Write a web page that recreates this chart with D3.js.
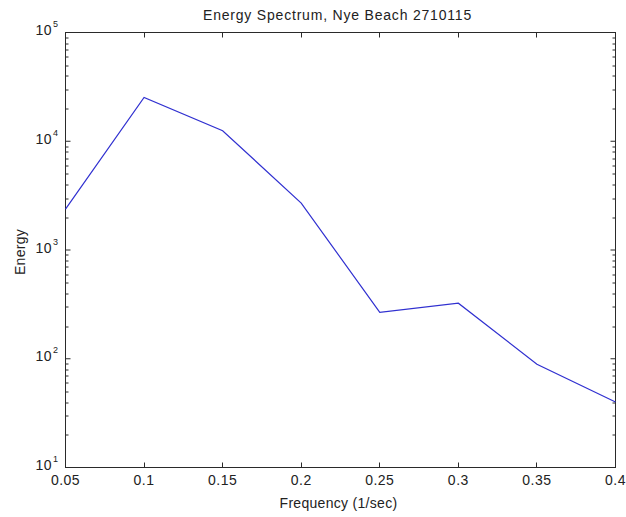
<!DOCTYPE html>
<html>
<head>
<meta charset="utf-8">
<script src="https://cdn.jsdelivr.net/npm/d3@7"></script>
<style>
    body { margin: 0; background: #fff; }
    text { font-family: "Liberation Sans", Arial, sans-serif; fill: #222; }
</style>
</head>
<body>
<div id="chart"></div>
<script>
// values
const frequencies = [0.05, 0.1, 0.15, 0.2, 0.25, 0.3, 0.35, 0.4];
const energy = [2380, 25300, 12500, 2700, 267, 324, 89, 40];
const xTicks = [0.05, 0.1, 0.15, 0.2, 0.25, 0.3, 0.35, 0.4];
const yDecades = [1, 2, 3, 4, 5];
const titleText = "Energy Spectrum, Nye Beach 2710115";

class SpectrumVis {
    constructor(parentElement) {
        this.parentElement = parentElement;
        this.initVis();
    }

    initVis() {
        let vis = this;

        vis.margin = {top: 32.5, right: 10.5, bottom: 49.5, left: 65.5};
        vis.totalW = 626;
        vis.totalH = 517;
        vis.width = vis.totalW - vis.margin.left - vis.margin.right;
        vis.height = vis.totalH - vis.margin.top - vis.margin.bottom;

        vis.svg = d3.select("#" + vis.parentElement).append("svg")
            .attr("width", vis.totalW)
            .attr("height", vis.totalH)
            .append("g")
            .attr("transform", `translate(${vis.margin.left}, ${vis.margin.top})`);

        vis.x = d3.scaleLinear().domain([0.05, 0.4]).range([0, vis.width]);
        vis.y = d3.scaleLog().domain([10, 1e5]).range([vis.height, 0]);

        let axisColor = "#2a2a2a";

        // minor ticks 2..9 per decade, both sides
        let minor = [];
        yDecades.slice(0, -1).forEach(p => {
            for (let m = 2; m <= 9; m++) minor.push(m * Math.pow(10, p));
        });
        let major = yDecades.map(p => Math.pow(10, p));

        [[0, 3], [vis.width, -3]].forEach(([x0, len]) => {
            vis.svg.selectAll(null).data(minor).enter().append("line")
                .attr("x1", x0).attr("x2", x0 + len)
                .attr("y1", d => Math.round(vis.y(d)) + 0.5)
                .attr("y2", d => Math.round(vis.y(d)) + 0.5)
                .attr("stroke", axisColor);
        });
        [[0, 5], [vis.width, -5]].forEach(([x0, len]) => {
            vis.svg.selectAll(null).data(major).enter().append("line")
                .attr("x1", x0).attr("x2", x0 + len)
                .attr("y1", d => vis.y(d))
                .attr("y2", d => vis.y(d))
                .attr("stroke", axisColor);
        });

        // x ticks top and bottom
        [[vis.height, -5], [0, 5]].forEach(([y0, len]) => {
            vis.svg.selectAll(null).data(xTicks).enter().append("line")
                .attr("x1", d => Math.round(vis.x(d)))
                .attr("x2", d => Math.round(vis.x(d)))
                .attr("y1", y0).attr("y2", y0 + len)
                .attr("stroke", axisColor);
        });

        // box
        vis.svg.append("rect")
            .attr("x", 0).attr("y", 0)
            .attr("width", vis.width).attr("height", vis.height)
            .attr("fill", "none")
            .attr("stroke", axisColor);

        // x tick labels
        vis.svg.selectAll(".xlab").data(xTicks).enter().append("text")
            .attr("class", "xlab")
            .attr("x", d => vis.x(d))
            .attr("y", vis.height + 17.5)
            .attr("text-anchor", "middle")
            .style("font-size", "14px")
            .style("letter-spacing", "0.5px")
            .text(d => d3.format("")(d));

        // y tick labels 10^n
        let ylab = vis.svg.selectAll(".ylab").data(yDecades).enter().append("text")
            .attr("class", "ylab")
            .attr("x", -7)
            .attr("y", d => vis.y(Math.pow(10, d)) + 2.5)
            .attr("text-anchor", "end")
            .style("font-size", "14px")
            .style("letter-spacing", "0.5px");
        ylab.append("tspan").text("10");
        ylab.append("tspan")
            .attr("dy", -8)
            .attr("dx", 1)
            .style("font-size", "9px")
            .text(d => d);

        // data line
        let line = d3.line()
            .x((d, i) => vis.x(frequencies[i]))
            .y(d => vis.y(d));

        vis.svg.append("path")
            .datum(energy)
            .attr("d", line)
            .attr("fill", "none")
            .attr("stroke", "#3030d0")
            .attr("stroke-width", 1.2);

        // title and axis labels
        vis.svg.append("text")
            .attr("x", vis.width / 2 - 3)
            .attr("y", -12.5)
            .attr("text-anchor", "middle")
            .style("font-size", "14px")
            .style("letter-spacing", "0.8px")
            .text(titleText);

        vis.svg.append("text")
            .attr("x", vis.width / 2 - 2)
            .attr("y", vis.height + 40.5)
            .attr("text-anchor", "middle")
            .style("font-size", "14px")
            .style("letter-spacing", "0.3px")
            .text("Frequency (1/sec)");

        vis.svg.append("text")
            .attr("transform", `translate(${-40.5}, ${vis.height / 2 + 2}) rotate(-90)`)
            .attr("text-anchor", "middle")
            .style("font-size", "14px")
            .style("letter-spacing", "0.3px")
            .text("Energy");
    }
}

new SpectrumVis("chart");
</script>
</body>
</html>
